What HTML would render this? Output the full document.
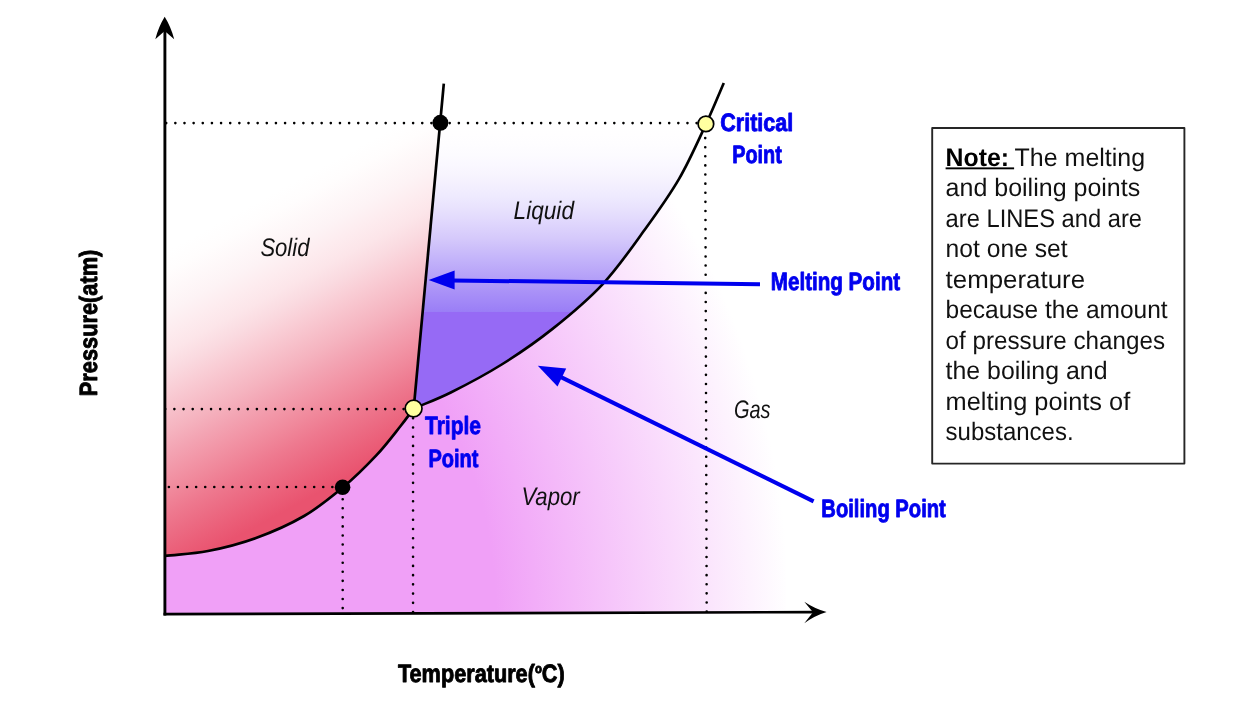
<!DOCTYPE html>
<html lang="en">
<head>
<meta charset="utf-8">
<title>Phase Diagram</title>
<style>
html,body{margin:0;padding:0;background:#fff;}
body{width:1234px;height:708px;overflow:hidden;font-family:"Liberation Sans",sans-serif;}
svg{display:block;will-change:transform;}
text{text-rendering:geometricPrecision;}
text{font-family:"Liberation Sans",sans-serif;}
.blue{fill:#0000ee;font-weight:bold;font-size:25px;stroke:#0000ee;stroke-width:0.9px;stroke-linejoin:round;}
.axis{fill:#000;font-weight:bold;font-size:25px;stroke:#000;stroke-width:0.9px;stroke-linejoin:round;}
.it{fill:#111;font-style:italic;font-size:25.3px;}
.note{fill:#111;font-size:25.3px;}
.noteb{fill:#000;font-size:25.3px;font-weight:bold;}
.dot{stroke:#000;stroke-width:2.6;stroke-linecap:round;fill:none;}
</style>
</head>
<body>
<svg width="1234" height="708" viewBox="0 0 1234 708">
<defs>
<linearGradient id="gSolid" gradientUnits="userSpaceOnUse" x1="143.1" y1="263.7" x2="279" y2="514.2">
<stop offset="0.0000" stop-color="#ffffff"/>
<stop offset="0.0625" stop-color="#fffdfd"/>
<stop offset="0.1250" stop-color="#fef8f9"/>
<stop offset="0.1875" stop-color="#fdf3f5"/>
<stop offset="0.2500" stop-color="#fdecef"/>
<stop offset="0.3125" stop-color="#fce5e9"/>
<stop offset="0.3750" stop-color="#fadae0"/>
<stop offset="0.4375" stop-color="#f9cdd5"/>
<stop offset="0.5000" stop-color="#f7c0ca"/>
<stop offset="0.5625" stop-color="#f5b3bf"/>
<stop offset="0.6250" stop-color="#f3a4b3"/>
<stop offset="0.6875" stop-color="#f296a7"/>
<stop offset="0.7500" stop-color="#f0889b"/>
<stop offset="0.8125" stop-color="#ee798f"/>
<stop offset="0.8750" stop-color="#ec6c84"/>
<stop offset="0.9375" stop-color="#eb5f79"/>
<stop offset="1.0000" stop-color="#e9536f"/>
</linearGradient>
<linearGradient id="gLiquid" gradientUnits="userSpaceOnUse" x1="0" y1="123" x2="0" y2="312">
<stop offset="0.0000" stop-color="#ffffff"/>
<stop offset="0.0556" stop-color="#fffeff"/>
<stop offset="0.1111" stop-color="#fefdff"/>
<stop offset="0.1667" stop-color="#fcfbff"/>
<stop offset="0.2222" stop-color="#faf8ff"/>
<stop offset="0.2778" stop-color="#f7f4fe"/>
<stop offset="0.3333" stop-color="#f3effe"/>
<stop offset="0.3889" stop-color="#eeeafe"/>
<stop offset="0.4444" stop-color="#e9e3fd"/>
<stop offset="0.5000" stop-color="#e3dbfd"/>
<stop offset="0.5556" stop-color="#dcd2fc"/>
<stop offset="0.6111" stop-color="#d5c9fb"/>
<stop offset="0.6667" stop-color="#ccbefa"/>
<stop offset="0.7222" stop-color="#c3b3fa"/>
<stop offset="0.7778" stop-color="#bba8f9"/>
<stop offset="0.8333" stop-color="#b29df8"/>
<stop offset="0.8889" stop-color="#aa92f7"/>
<stop offset="0.9444" stop-color="#a288f7"/>
<stop offset="0.9995" stop-color="#9a7ef6"/>
<stop offset="1" stop-color="#966af5"/>
</linearGradient>
<radialGradient id="gVapor" gradientUnits="userSpaceOnUse" cx="0" cy="0" r="1" gradientTransform="translate(165 613.5) scale(624 715)">
<stop offset="0" stop-color="#f0a0f7"/>
<stop offset="0.53" stop-color="#f0a0f7"/>
<stop offset="1" stop-color="#ffffff"/>
</radialGradient>
</defs>
<rect width="1234" height="708" fill="#fff"/>

<!-- regions -->
<path d="M164.70 555.90 C179.13 554.27 192.78 553.98 208.00 551.00 C223.22 548.02 239.98 543.83 256.00 538.00 C272.02 532.17 289.65 524.40 304.10 516.00 C318.55 507.60 330.67 497.70 342.70 487.60 C354.73 477.50 366.72 465.58 376.30 455.40 C385.88 445.22 393.97 434.32 400.20 426.50 C406.43 418.68 409.20 414.50 413.70 408.50 C426.07 403.17 436.13 399.83 450.80 392.50 C465.47 385.17 484.75 375.10 501.70 364.50 C518.65 353.90 535.62 342.35 552.50 328.90 C569.38 315.45 587.60 300.37 603.00 283.80 C618.40 267.23 632.20 247.03 644.90 229.50 C657.60 211.97 668.98 196.25 679.20 178.60 C689.42 160.95 698.77 139.53 706.20 123.60 C713.63 107.67 717.93 96.53 723.80 83.00 L786 83 L786 613.5 L165 614.5 Z" fill="url(#gVapor)"/>
<path d="M165 123 L440.08 123.00 Q426.62 265.75 413.70 408.50 C409.20 414.50 406.43 418.68 400.20 426.50 C393.97 434.32 385.88 445.22 376.30 455.40 C366.72 465.58 354.73 477.50 342.70 487.60 C330.67 497.70 318.55 507.60 304.10 516.00 C289.65 524.40 272.02 532.17 256.00 538.00 C239.98 543.83 223.22 548.02 208.00 551.00 C192.78 553.98 179.13 554.27 164.70 555.90 Z" fill="url(#gSolid)"/>
<path d="M440.08 123.00 L706.20 123.60 C697.20 141.93 689.42 160.95 679.20 178.60 C668.98 196.25 657.60 211.97 644.90 229.50 C632.20 247.03 618.40 267.23 603.00 283.80 C587.60 300.37 569.38 315.45 552.50 328.90 C535.62 342.35 518.65 353.90 501.70 364.50 C484.75 375.10 465.47 385.17 450.80 392.50 C436.13 399.83 426.07 403.17 413.70 408.50 Q426.62 265.75 440.08 123.00 Z" fill="url(#gLiquid)"/>

<!-- dotted guides -->
<path class="dot" stroke-dasharray="0 9.145" d="M166.2 123.1 H706"/>
<path class="dot" stroke-dasharray="0 9.17" d="M165.2 409.1 H413"/>
<path class="dot" stroke-dasharray="0 9.08" d="M168.9 487 H343"/>
<path class="dot" stroke-dasharray="0 9.075" d="M342.7 490.1 V613"/>
<path class="dot" stroke-dasharray="0 9.23" d="M413.05 409 V613"/>
<path class="dot" stroke-dasharray="0 9.105" d="M705.2 129 L706.7 613"/>

<!-- curves -->
<path d="M164.70 555.90 C179.13 554.27 192.78 553.98 208.00 551.00 C223.22 548.02 239.98 543.83 256.00 538.00 C272.02 532.17 289.65 524.40 304.10 516.00 C318.55 507.60 330.67 497.70 342.70 487.60 C354.73 477.50 366.72 465.58 376.30 455.40 C385.88 445.22 393.97 434.32 400.20 426.50 C406.43 418.68 409.20 414.50 413.70 408.50" fill="none" stroke="#000" stroke-width="2.65"/>
<path d="M413.70 408.50 C426.07 403.17 436.13 399.83 450.80 392.50 C465.47 385.17 484.75 375.10 501.70 364.50 C518.65 353.90 535.62 342.35 552.50 328.90 C569.38 315.45 587.60 300.37 603.00 283.80 C618.40 267.23 632.20 247.03 644.90 229.50 C657.60 211.97 668.98 196.25 679.20 178.60 C689.42 160.95 698.77 139.53 706.20 123.60 C713.63 107.67 717.93 96.53 723.80 83.00" fill="none" stroke="#000" stroke-width="2.65"/>
<path d="M413.70 408.50 Q428.40 246.10 443.80 83.70" fill="none" stroke="#000" stroke-width="2.7"/>

<!-- axes -->
<path d="M164.9 30 V615.4" stroke="#000" stroke-width="2.9" fill="none"/>
<path d="M163.5 614.1 L815 612.1" stroke="#000" stroke-width="2.7" fill="none"/>
<path d="M164.7 16.8 Q171 27 174.2 39.3 L164.7 31 L155.3 39.3 Q158.4 27 164.7 16.8 Z" fill="#000"/>
<path d="M826.6 612 Q815 609 804.3 601.8 L813 612.2 L804.3 623.2 Q815 615.5 826.6 612 Z" fill="#000"/>

<!-- blue arrows -->
<path d="M452 280.4 L760 284.3" stroke="#0000ee" stroke-width="4.0" fill="none"/>
<path d="M428.6 280 L454.6 270.6 L454.6 289.6 Z" fill="#0000ee"/>
<path d="M560 376.6 L813.6 501.3" stroke="#0000ee" stroke-width="4.1" fill="none"/>
<path d="M537.8 365.7 L566.2 368.5 L557.5 386.4 Z" fill="#0000ee"/>

<!-- points -->
<circle cx="440.4" cy="122.8" r="8" fill="#000"/>
<circle cx="342.6" cy="487.3" r="7.8" fill="#000"/>
<circle cx="705.9" cy="123.9" r="7.8" fill="#ffffa0" stroke="#000" stroke-width="1.7"/>
<circle cx="413.6" cy="408.5" r="8.4" fill="#ffffa0" stroke="#000" stroke-width="1.7"/>

<!-- blue labels -->
<text x="720.3" y="131.2" textLength="72.9" lengthAdjust="spacingAndGlyphs" class="blue" >Critical</text>
<text x="732.2" y="163.4" textLength="49.7" lengthAdjust="spacingAndGlyphs" class="blue" >Point</text>
<text x="425.0" y="434.4" textLength="56.0" lengthAdjust="spacingAndGlyphs" class="blue" >Triple</text>
<text x="428.5" y="466.6" textLength="50.0" lengthAdjust="spacingAndGlyphs" class="blue" >Point</text>
<text x="770.8" y="289.5" textLength="129.3" lengthAdjust="spacingAndGlyphs" class="blue" >Melting Point</text>
<text x="821.3" y="517.4" textLength="124.5" lengthAdjust="spacingAndGlyphs" class="blue" >Boiling Point</text>

<!-- axis labels -->
<text x="397.9" y="682.4" textLength="166.8" lengthAdjust="spacingAndGlyphs" class="axis" >Temperature(<tspan font-size='13' dy='-9'>o</tspan><tspan dy='9'>C)</tspan></text>
<g transform="translate(97.3 396.2) rotate(-90)"><text x="0.0" y="0.0" textLength="146.5" lengthAdjust="spacingAndGlyphs" class="axis" >Pressure(atm)</text></g>

<!-- region labels -->
<text x="260.4" y="256.1" textLength="49.0" lengthAdjust="spacingAndGlyphs" class="it" >Solid</text>
<text x="513.6" y="218.8" textLength="60.4" lengthAdjust="spacingAndGlyphs" class="it" >Liquid</text>
<text x="733.9" y="418.1" textLength="36.6" lengthAdjust="spacingAndGlyphs" class="it" >Gas</text>
<text x="521.4" y="505.3" textLength="58.3" lengthAdjust="spacingAndGlyphs" class="it" >Vapor</text>

<!-- note box -->
<rect x="932.2" y="128" width="252.2" height="335.6" fill="#fff" stroke="#262626" stroke-width="1.9" stroke-linejoin="round"/>
<text x="945.6" y="165.8" textLength="63.5" lengthAdjust="spacingAndGlyphs" class="noteb" >Note:</text>
<rect x="945.6" y="167.4" width="68.5" height="1.9" fill="#000"/>
<text x="1014.6" y="165.8" textLength="130.5" lengthAdjust="spacingAndGlyphs" class="note" >The melting</text>
<text x="945.6" y="196.3" textLength="194.6" lengthAdjust="spacingAndGlyphs" class="note" >and boiling points</text>
<text x="945.6" y="226.8" textLength="196.4" lengthAdjust="spacingAndGlyphs" class="note" >are LINES and are</text>
<text x="945.6" y="257.3" textLength="122.0" lengthAdjust="spacingAndGlyphs" class="note" >not one set</text>
<text x="945.6" y="287.8" textLength="139.5" lengthAdjust="spacingAndGlyphs" class="note" >temperature</text>
<text x="945.6" y="318.3" textLength="222.0" lengthAdjust="spacingAndGlyphs" class="note" >because the amount</text>
<text x="945.6" y="348.8" textLength="219.4" lengthAdjust="spacingAndGlyphs" class="note" >of pressure changes</text>
<text x="945.6" y="379.3" textLength="161.9" lengthAdjust="spacingAndGlyphs" class="note" >the boiling and</text>
<text x="945.6" y="409.8" textLength="184.6" lengthAdjust="spacingAndGlyphs" class="note" >melting points of</text>
<text x="945.6" y="440.3" textLength="128.0" lengthAdjust="spacingAndGlyphs" class="note" >substances.</text>
</svg>
</body>
</html>
